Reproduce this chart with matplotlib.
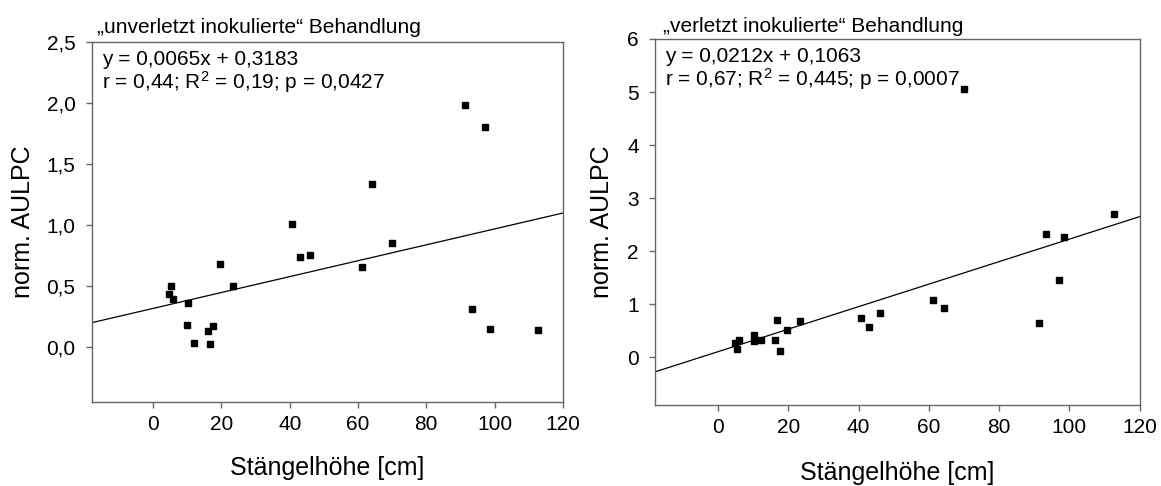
import numpy as np
import matplotlib
matplotlib.use("Agg")
import matplotlib.pyplot as plt

plt.rcParams['font.family'] = ['Liberation Sans', 'DejaVu Sans']
plt.rcParams['mathtext.fontset'] = 'custom'
plt.rcParams['mathtext.rm'] = 'Liberation Sans'
plt.rcParams['mathtext.it'] = 'Liberation Sans'

# Stängelhöhe [cm] und norm. AULPC
hoehe_unverletzt = [91.3, 97.1, 64.2, 40.6, 69.9, 42.9, 45.9, 19.5, 23.3, 61.3, 5.3,
                    4.7, 5.8, 10.2, 10.0, 12.1, 16.1, 17.5, 16.7, 93.4, 98.6, 112.8]
aulpc_unverletzt = [1.985, 1.80, 1.339, 1.009, 0.851, 0.742, 0.752, 0.682, 0.504, 0.660, 0.502,
                    0.436, 0.398, 0.363, 0.18, 0.033, 0.131, 0.177, 0.025, 0.311, 0.153, 0.139]

hoehe_verletzt = [69.9, 93.4, 98.5, 112.7, 97.1, 91.3, 61.3, 64.3, 40.6, 42.9, 46.0,
                  23.3, 16.8, 19.6, 16.1, 17.6, 12.2, 10.1, 10.2, 5.9, 4.7, 5.3]
aulpc_verletzt = [5.06, 2.33, 2.26, 2.70, 1.465, 0.64, 1.07, 0.93, 0.74, 0.57, 0.84,
                  0.69, 0.70, 0.52, 0.32, 0.11, 0.32, 0.42, 0.30, 0.33, 0.26, 0.16]

# Regressionsgeraden (Steigung, Achsenabschnitt)
reg_unverletzt = (0.0065, 0.3183)
reg_verletzt = (0.0212, 0.1063)

x_ticks = [0, 20, 40, 60, 80, 100, 120]
y_ticks_unverletzt = [0.0, 0.5, 1.0, 1.5, 2.0, 2.5]
y_ticks_verletzt = [0, 1, 2, 3, 4, 5, 6]

titel = ["\u201eunverletzt inokulierte\u201c Behandlung",
         "\u201everletzt inokulierte\u201c Behandlung"]
gleichung = ["y = 0,0065x + 0,3183", "y = 0,0212x + 0,1063"]
statistik = ["r = 0,44; R$^{2}$ = 0,19; p = 0,0427",
             "r = 0,67; R$^{2}$ = 0,445; p = 0,0007"]

frame = '#666666'

fig = plt.figure(figsize=(11.61, 4.86), dpi=100)
ax1 = fig.add_axes([0.0790, 0.1722, 0.4058, 0.7420])
ax2 = fig.add_axes([0.5642, 0.1667, 0.4173, 0.7531])

panels = [
    (ax1, hoehe_unverletzt, aulpc_unverletzt, reg_unverletzt, y_ticks_unverletzt,
     (-0.45, 2.5), lambda v: f"{v:.1f}".replace('.', ','),
     (0.0106, 1.0241), (0.0212, 0.9354, 0.8690), (-0.1460, -0.2016)),
    (ax2, hoehe_verletzt, aulpc_verletzt, reg_verletzt, y_ticks_verletzt,
     (-0.9, 6), lambda v: f"{v:d}",
     (0.0171, 1.0200), (0.0206, 0.9380, 0.8716), (-0.1100, -0.2050)),
]

for i, (ax, xs, ys, reg, yt, ylim, fmt, tpos, apos, lpos) in enumerate(panels):
    xlim = (-18, 120)
    ax.set_xlim(*xlim)
    ax.set_ylim(*ylim)

    xl = np.array(xlim, dtype=float)
    ax.plot(xl, reg[0] * xl + reg[1], color='black', lw=0.9, zorder=2)
    ax.plot(xs, ys, 's', color='black', markersize=4.8, zorder=3)

    ax.set_xticks(x_ticks)
    ax.set_yticks(yt)
    ax.set_yticklabels([fmt(v) for v in yt])
    ax.tick_params(axis='both', direction='out', length=4.2, width=1,
                   color=frame, labelsize=15)
    ax.tick_params(axis='x', pad=5)
    ax.tick_params(axis='y', pad=7.5)

    for sp in ax.spines.values():
        sp.set_color(frame)
        sp.set_linewidth(1)

    ax.text(tpos[0], tpos[1], titel[i], transform=ax.transAxes,
            fontsize=15, va='baseline', ha='left')
    ax.text(apos[0], apos[1], gleichung[i], transform=ax.transAxes,
            fontsize=15, va='baseline', ha='left')
    ax.text(apos[0], apos[2], statistik[i], transform=ax.transAxes,
            fontsize=15, va='baseline', ha='left')

    ax.set_ylabel("norm. AULPC", fontsize=18, va='center')
    ax.yaxis.set_label_coords(lpos[0], 0.5)
    ax.set_xlabel("Stängelhöhe [cm]", fontsize=18, va='baseline')
    ax.xaxis.set_label_coords(0.5, lpos[1])

fig.savefig("out.png", dpi=100)
